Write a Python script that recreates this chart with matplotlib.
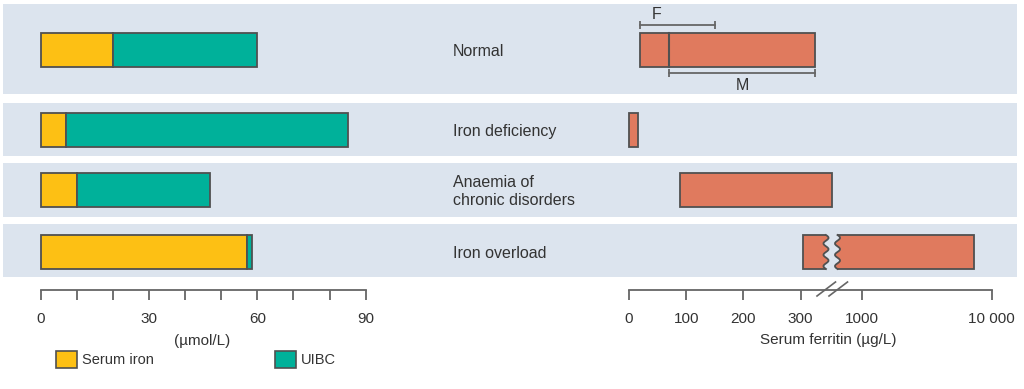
import numpy as np
import matplotlib
matplotlib.use("Agg")
import matplotlib.pyplot as plt
from matplotlib.patches import Rectangle, Polygon

# ---------------- data ----------------
conditions = ["Normal", "Iron deficiency", "Anaemia of\nchronic disorders", "Iron overload"]
serum_iron = [20, 7, 10, 57]          # µmol/L
uibc = [40, 78, 37, 1.5]              # µmol/L
ferritin_low = [20, 0, 90, 305]       # µg/L
ferritin_high = [325, 15, 355, 7300]  # µg/L
ferritin_F = [20, 150]                # normal female range
ferritin_M = [70, 325]                # normal male range
iron_major_ticks = [0, 30, 60, 90]
iron_minor_ticks = [10, 20, 40, 50, 70, 80]
ferritin_ticks = [0, 100, 200, 300, 1000, 10000]
ferritin_tick_labels = ["0", "100", "200", "300", "1000", "10 000"]

# ---------------- style / layout ----------------
plt.rcParams["font.family"] = ["Liberation Sans", "DejaVu Sans"]
W, H = 1024, 389
BAND = "#dce4ee"
YELLOW = "#fdc014"
TEAL = "#00b19a"
SALMON = "#e07a5e"
EDGE = "#505050"
AXC = "#666666"
TXT = "#333333"

band_px = [(4, 94), (103, 156), (163, 217), (224, 277)]
bar_centers = [49.5, 130, 190, 252]
bar_h = 34

# piecewise ferritin scale: linear to L, compressed gap, then log
L, G, D = 380.0, 27.8, 226.2


def fwd(v):
    v = np.asarray(v, dtype=float)
    with np.errstate(divide="ignore", invalid="ignore", over="ignore"):
        lv = np.log10(np.clip(v, 1e-9, None))
        mid = L + (lv - np.log10(L)) / (3 - np.log10(L)) * G
        hi = L + G + (lv - 3) * D
    return np.where(v <= L, v, np.where(v <= 1000, mid, hi))


def inv(u):
    u = np.asarray(u, dtype=float)
    with np.errstate(divide="ignore", invalid="ignore", over="ignore"):
        mid = 10 ** np.clip(np.log10(L) + (u - L) / G * (3 - np.log10(L)), -300, 300)
        hi = 10 ** np.clip(3 + (u - L - G) / D, -300, 300)
    return np.where(u <= L, u, np.where(u <= L + G, mid, hi))


def fig_rect(x0, y0, x1, y1):
    return [x0 / W, 1 - y1 / H, (x1 - x0) / W, (y1 - y0) / H]


fig = plt.figure(figsize=(W / 100, H / 100), dpi=100)

# background axes in pixel coordinates
ax_bg = fig.add_axes([0, 0, 1, 1], zorder=0)
ax_bg.set_xlim(0, W)
ax_bg.set_ylim(H, 0)
ax_bg.axis("off")
for (y0, y1) in band_px:
    ax_bg.add_patch(Rectangle((3, y0), 1014, y1 - y0, facecolor=BAND, edgecolor="none"))
for name, yc in zip(conditions, bar_centers):
    ax_bg.text(453, yc + 1.5, name, ha="left", va="center", fontsize=11.5, color=TXT,
               linespacing=1.2)


def style_axis(ax):
    ax.patch.set_visible(False)
    for s in ["top", "left", "right"]:
        ax.spines[s].set_visible(False)
    ax.spines["bottom"].set_color(AXC)
    ax.spines["bottom"].set_linewidth(1.3)
    ax.tick_params(axis="x", which="both", direction="out", length=7.5, width=1.3,
                   color=AXC, labelcolor=TXT, labelsize=11, pad=8.5)
    ax.tick_params(axis="y", left=False, labelleft=False)


# ---------------- left: serum iron / UIBC ----------------
ax_l = fig.add_axes(fig_rect(40.7, 4, 365.7, 290), zorder=1)
ax_l.set_xlim(0, 90)
ax_l.set_ylim(290, 4)
style_axis(ax_l)
ax_l.barh(bar_centers, serum_iron, height=bar_h, left=0, color=YELLOW,
          edgecolor=EDGE, linewidth=1.3, clip_on=False, zorder=2)
ax_l.barh(bar_centers, uibc, height=bar_h, left=serum_iron, color=TEAL,
          edgecolor=EDGE, linewidth=1.3, clip_on=False, zorder=2)
ax_l.set_xticks(iron_major_ticks)
ax_l.set_xticks(iron_minor_ticks, minor=True)

# ---------------- right: serum ferritin ----------------
ax_r = fig.add_axes(fig_rect(629, 4, 991.7, 290), zorder=2)
ax_r.set_xscale("function", functions=(fwd, inv))
ax_r.set_xlim(0, 10000)
ax_r.set_ylim(290, 4)
style_axis(ax_r)
ax_r.xaxis.set_minor_locator(matplotlib.ticker.NullLocator())
ax_r.set_xticks(ferritin_ticks, ferritin_tick_labels)

widths = [h - l for l, h in zip(ferritin_low, ferritin_high)]
ax_r.barh(bar_centers, widths, height=bar_h, left=ferritin_low, color=SALMON,
          edgecolor=EDGE, linewidth=1.3, clip_on=False, zorder=2)

# divider between F and M in the normal bar
y_top, y_bot = bar_centers[0] - bar_h / 2, bar_centers[0] + bar_h / 2
ax_r.plot([ferritin_M[0], ferritin_M[0]], [y_top, y_bot], color=EDGE, lw=1.5, zorder=3)

# F bracket
ax_r.plot(ferritin_F, [25, 25], color=AXC, lw=1.3, clip_on=False, zorder=3)
ax_r.vlines(ferritin_F, 21, 29, color=AXC, lw=1.3, clip_on=False, zorder=3)
ax_r.annotate("F", xy=(ferritin_F[0], 25), xytext=(11.5, 7.5), textcoords="offset points",
              ha="center", va="center", fontsize=11.5, color=TXT)
# M bracket
mid_M = float(inv((fwd(ferritin_M[0]) + fwd(ferritin_M[1])) / 2))
ax_r.plot(ferritin_M, [72.5, 72.5], color=AXC, lw=1.3, zorder=3)
ax_r.vlines(ferritin_M, 68.5, 76.5, color=AXC, lw=1.3, zorder=3)
ax_r.text(mid_M, 85, "M", ha="center", va="center", fontsize=11.5, color=TXT)

# break in the iron-overload bar (pixel coordinates)
yb0, yb1 = bar_centers[3] - bar_h / 2, bar_centers[3] + bar_h / 2
zy = np.linspace(yb0, yb1, 31)
zoff = 2.6 * np.sin(np.linspace(0, 3 * 2 * np.pi, 31))
left_edge = np.column_stack([826 + zoff, zy])
right_edge = np.column_stack([837.5 + zoff, zy])
poly = np.vstack([[[826, yb0 - 2]], left_edge, [[826, yb1 + 2]], [[837.5, yb1 + 2]],
                  right_edge[::-1], [[837.5, yb0 - 2]]])
ax_r.add_patch(Polygon(poly, closed=True, facecolor=BAND, edgecolor="none",
                       transform=ax_bg.transData, clip_on=False, zorder=5))
for edge in (left_edge, right_edge):
    ax_r.plot(edge[:, 0], edge[:, 1], color=EDGE, lw=1.3, transform=ax_bg.transData,
              clip_on=False, zorder=6)

# axis break marks "//"
for x0 in (817, 829):
    ax_r.plot([x0, x0 + 18.5], [296, 282], color=AXC, lw=1.2, transform=ax_bg.transData,
              clip_on=False, zorder=6)

# axis titles and legend (pixel coords)
ax_bg.text(202, 341, "(µmol/L)", ha="center", va="center", fontsize=11, color=TXT)
ax_bg.text(828, 340, "Serum ferritin (µg/L)", ha="center", va="center", fontsize=11, color=TXT)
for x0, col, lab in [(56, YELLOW, "Serum iron"), (275, TEAL, "UIBC")]:
    ax_bg.add_patch(Rectangle((x0, 351), 20.5, 17, facecolor=col, edgecolor=EDGE, lw=1.2))
    ax_bg.text(x0 + 26, 360, lab, ha="left", va="center", fontsize=10.5, color=TXT)

fig.savefig("out.png", dpi=100)
